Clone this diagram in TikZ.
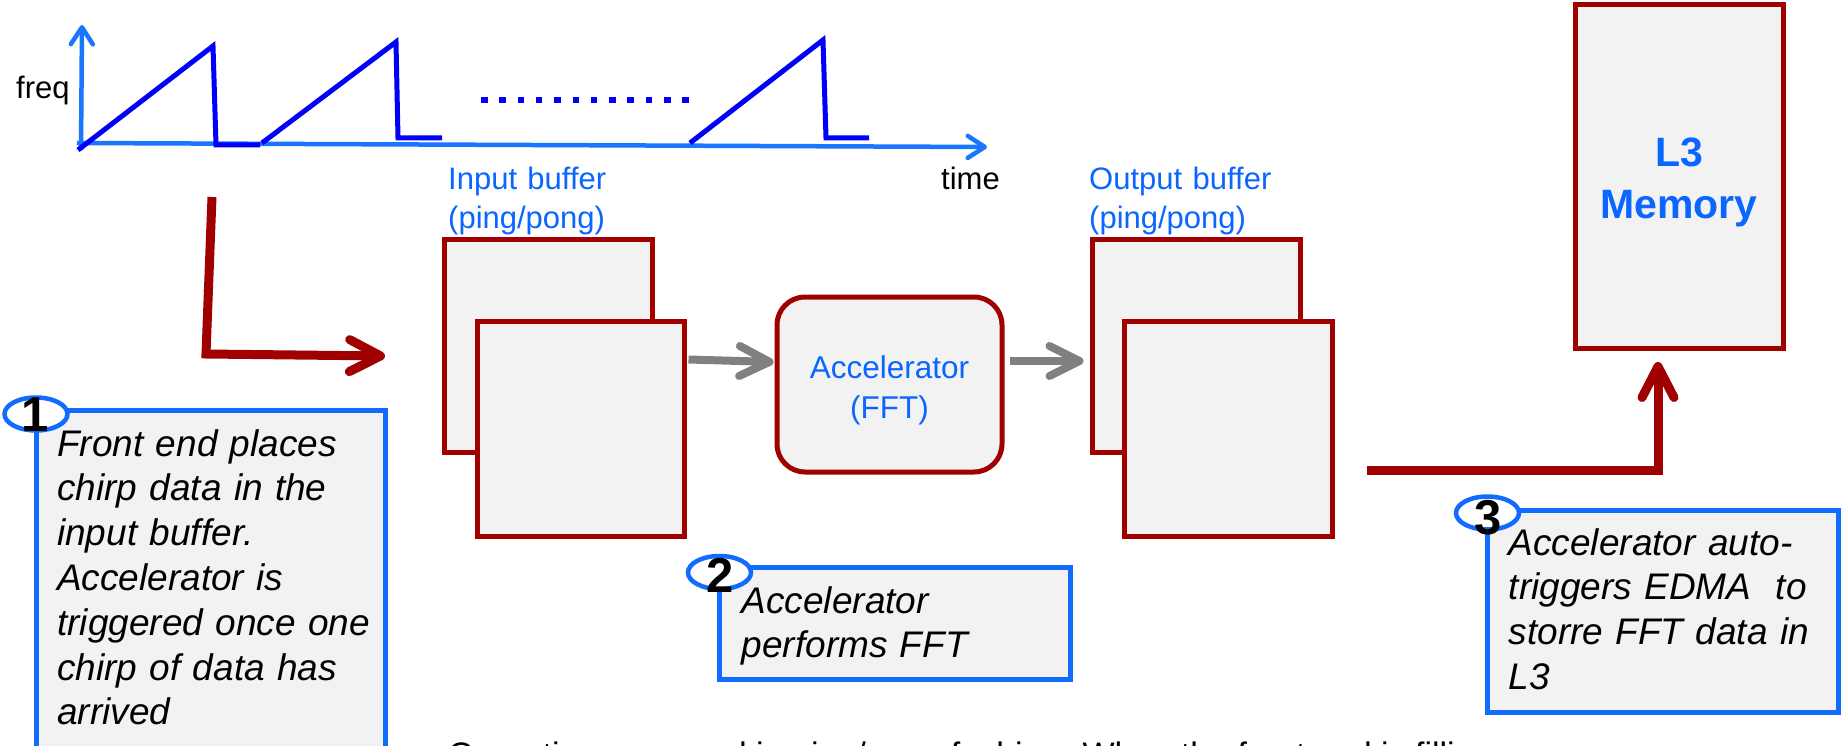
\documentclass[tikz,border=0pt]{standalone}
\usepackage{fontspec}
\setmainfont{Liberation Sans}
\usetikzlibrary{arrows.meta,shapes.geometric,calc}

\definecolor{darkred}{RGB}{160,0,0}
\definecolor{calloutblue}{RGB}{16,108,255}
\definecolor{labelblue}{RGB}{10,102,255}
\definecolor{axisblue}{RGB}{25,118,255}
\definecolor{chirpblue}{RGB}{0,0,250}
\definecolor{panel}{RGB}{242,242,242}
\definecolor{flowgray}{RGB}{128,128,128}

\begin{document}
\begin{tikzpicture}[x=1pt,y=-1pt,
  bufbox/.style={draw=darkred,fill=panel,line width=5pt,inner sep=0pt},
  callbox/.style={draw=calloutblue,fill=panel,line width=5pt,inner sep=0pt},
  calltext/.style={anchor=base west,align=left,text width=420pt,inner sep=0pt,
    font=\fontsize{37}{44.8}\selectfont\itshape},
  badge/.style={ellipse,draw=calloutblue,fill=white,line width=4.5pt,
    minimum width=63pt,minimum height=33pt,inner sep=0pt},
  badgenum/.style={inner sep=0pt,font=\fontsize{49}{49}\selectfont\bfseries},
  lbl/.style={anchor=base west,align=left,text width=300pt,inner sep=0pt,
    text=labelblue,font=\fontsize{31}{39}\selectfont},
  axislbl/.style={anchor=base west,inner sep=0pt,font=\fontsize{31}{39}\selectfont},
  axis/.style={draw=axisblue,line width=4.5pt,
    -{Straight Barb[length=17pt,width=22pt,round]}},
  chirp/.style={draw=chirpblue,line width=5pt,line join=miter},
  redflow/.style={draw=darkred,line width=9pt,line join=miter,
    -{Straight Barb[length=31pt,width=32pt,round]}},
  grayflow/.style={draw=flowgray,line width=8pt,
    -{Straight Barb[length=30pt,width=30pt,round]}}
]
\clip (0,0) rectangle (1845,746);
\fill[white] (0,0) rectangle (1845,746);

% ---- frequency / time chart ----
\coordinate (yorig) at (81,150);
\coordinate (ytop) at (82,25);
\coordinate (xorig) at (77,143);
\coordinate (xend) at (987,147);
\draw[axis] (yorig) -- (ytop);
\draw[axis] (xorig) -- (xend);
\node[axislbl] (freq) at (16,99) {freq};
\node[axislbl] (time) at (941,190) {time};

\draw[chirp] (78,150) -- (213,46) -- (216,145) -- (260,145);
\draw[chirp] (262,143) -- (396,42) -- (398,138) -- (442,138);
\draw[chirp] (690,143) -- (823,40) -- (826,138) -- (869,138);
\draw[draw=chirpblue,line width=6.5pt,dash pattern=on 6.5pt off 11.8pt]
  (481,100) -- (699,100);

% ---- buffers, accelerator, memory ----
\node[lbl] (inlbl) at (448,190) {Input buffer\\(ping/pong)};
\node[bufbox,minimum width=208pt,minimum height=212pt] (inback) at (548,346) {};
\node[bufbox,minimum width=207pt,minimum height=215pt] (infront) at (580.5,428.5) {};

\node[bufbox,rounded corners=28pt,minimum width=225pt,minimum height=175pt]
  (acc) at (889.5,384.5) {};
\node[align=center,inner sep=0pt,text=labelblue,font=\fontsize{31.5}{39.5}\selectfont]
  (acclbl) at ($(acc.center)+(0,6)$) {Accelerator\\(FFT)};

\node[lbl] (outlbl) at (1089,190) {Output buffer\\(ping/pong)};
\node[bufbox,minimum width=208pt,minimum height=212pt] (outback) at (1196,346) {};
\node[bufbox,minimum width=208pt,minimum height=215pt] (outfront) at (1228,428.5) {};

\node[bufbox,minimum width=208pt,minimum height=343pt] (mem) at (1679,176.5) {};
\node[align=center,inner sep=0pt,text=labelblue,font=\fontsize{41}{52}\selectfont\bfseries]
  (memlbl) at ($(mem.center)+(0,6)$) {L3\\Memory};

% ---- data flow ----
\draw[grayflow] ($(infront.north east)+(2,41)$) -- ($(acc.west)+(-1,-22.5)$);
\draw[grayflow] ($(acc.east)+(5,-23.5)$) -- ($(outback.west)+(-6,15)$);

\coordinate (festart) at (212,197);
\coordinate (fecorner) at (206,354);
\coordinate (feend) at (385,356);
\draw[redflow] (festart) -- (fecorner) -- (feend);

\coordinate (dmastart) at (1367,470.5);
\coordinate (dmacorner) at (1658,470.5);
\coordinate (dmaend) at (1658,362);
\draw[redflow] (dmastart) -- (dmacorner) -- (dmaend);

% ---- numbered callouts ----
\node[callbox,minimum width=349pt,minimum height=350pt] (c1) at (210.5,585) {};
\node[badge] (b1) at (36,414) {};
\node[badgenum] (n1) at (35,415) {1};
\node[calltext] (t1) at (57,456) {Front end places\\chirp data in the\\input buffer.\\Accelerator is\\triggered once one\\chirp of data has\\arrived};

\node[callbox,minimum width=351pt,minimum height=112pt] (c2) at (895,623) {};
\node[badge] (b2) at (719.5,572.5) {};
\node[badgenum] (n2) at (720.5,575.5) {2};
\node[calltext] (t2) at (741.5,613) {Accelerator\\performs FFT};

\node[callbox,minimum width=351pt,minimum height=202pt] (c3) at (1662.5,611) {};
\node[badge] (b3) at (1487.5,513) {};
\node[badgenum] (n3) at (1488,518) {3};
\node[calltext] (t3) at (1508.5,555) {Accelerator auto-\\triggers EDMA\ \ to\\storre FFT data in\\L3};

% ---- note along the lower edge ----
\node[anchor=base west,inner sep=0pt,font=\fontsize{34}{40}\selectfont]
  (note) at (448,766) {Operations proceed in ping/pong fashion. When the front end is filling};
\end{tikzpicture}
\end{document}
